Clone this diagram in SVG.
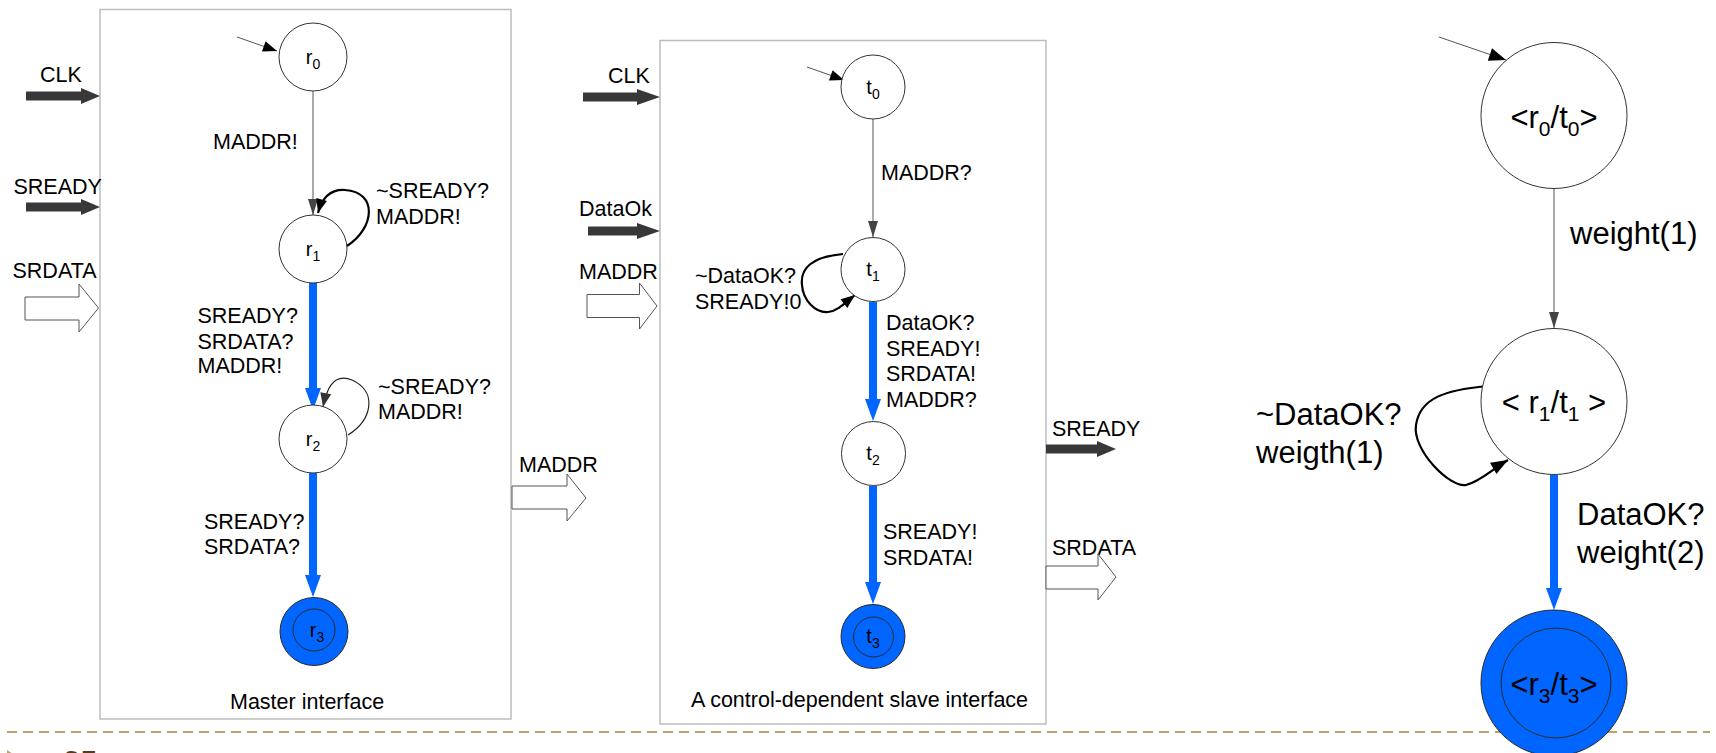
<svg xmlns="http://www.w3.org/2000/svg" width="1716" height="753" viewBox="0 0 1716 753">
  <style>
    text { font-family: "Liberation Sans", Arial, sans-serif; fill: #000; }
    .lbl { font-size: 21.5px; }
    .big { font-size: 31px; }
    .nlab { font-size: 20px; text-anchor: middle; }
    .blab { font-size: 31px; text-anchor: middle; }
    .box { fill: #fff; stroke: #bdbdbd; stroke-width: 1.5; }
    .state { fill: #fff; stroke: #333; stroke-width: 1; }
    .final { fill: #0066ff; stroke: #2a2a2a; stroke-width: 1; }
    .inner { fill: none; stroke: #2a2a2a; stroke-width: 1; }
    .thin { fill: none; stroke: #555; stroke-width: 1; }
    .blue { fill: none; stroke: #0066ff; stroke-width: 8; }
    .loop { fill: none; stroke: #000; stroke-width: 2.2; }
    .loop2 { fill: none; stroke: #222; stroke-width: 1.2; }
    .solid { fill: #383838; stroke: none; }
    .hollow { fill: #fff; stroke: #555; stroke-width: 1; }
  </style>
  <defs>
    <marker id="ahGray" markerUnits="userSpaceOnUse" markerWidth="16" markerHeight="10" refX="16" refY="5" orient="auto" overflow="visible">
      <path d="M0,0 L16,5 L0,10 z" fill="#444"/>
    </marker>
    <marker id="ahBlack" markerUnits="userSpaceOnUse" markerWidth="14" markerHeight="11" refX="14" refY="5.5" orient="auto" overflow="visible">
      <path d="M0,0 L14,5.5 L0,11 z" fill="#000"/>
    </marker>
    <marker id="ahBlackL" markerUnits="userSpaceOnUse" markerWidth="17" markerHeight="13" refX="17" refY="6.5" orient="auto" overflow="visible">
      <path d="M0,0 L17,6.5 L0,13 z" fill="#000"/>
    </marker>
    <marker id="ahDark" markerUnits="userSpaceOnUse" markerWidth="14" markerHeight="11" refX="14" refY="5.5" orient="auto" overflow="visible">
      <path d="M0,0 L14,5.5 L0,11 z" fill="#333"/>
    </marker>
    <marker id="ahBlue" markerUnits="userSpaceOnUse" markerWidth="22" markerHeight="16" refX="0" refY="8" orient="auto" overflow="visible">
      <path d="M0,0 L22,8 L0,16 z" fill="#0066ff"/>
    </marker>
  </defs>

  <!-- interface frames -->
  <rect class="box" x="100" y="9.5" width="411" height="709.5"/>
  <rect class="box" x="660" y="40.5" width="386" height="683.5"/>

  <!-- page separator -->
  <line x1="7" y1="732" x2="1710" y2="732" stroke="#c0a064" stroke-width="2" stroke-dasharray="10 6"/>
  <polygon points="7,750 7,766 19,758" fill="#c0a064"/>
  <text x="63" y="773" style="font-size:31px; fill:#5a3a1a">35</text>

  <!-- port arrows -->
  <g id="ports">
    <!-- master inputs -->
    <text class="lbl" x="40" y="82">CLK</text>
    <polygon class="solid" points="26,91.5 81,91.5 81,88 100,96 81,104 81,100.5 26,100.5"/>
    <text class="lbl" x="13.5" y="194">SREADY</text>
    <polygon class="solid" points="26,202.5 81,202.5 81,199 100,207 81,215 81,211.5 26,211.5"/>
    <text class="lbl" x="12.5" y="278">SRDATA</text>
    <polygon class="hollow" points="25,297 79,297 79,284 98.5,308 79,332 79,320 25,320"/>
    <!-- master to slave -->
    <text class="lbl" x="519" y="472">MADDR</text>
    <polygon class="hollow" points="512,486 567,486 567,474 586,498 567,521 567,509 512,509"/>
    <!-- slave inputs -->
    <text class="lbl" x="608" y="83">CLK</text>
    <polygon class="solid" points="583,92.5 637,92.5 637,89 660,97 637,105 637,101.5 583,101.5"/>
    <text class="lbl" x="579" y="216">DataOk</text>
    <polygon class="solid" points="588,226.5 637,226.5 637,223 660,231 637,239 637,235.5 588,235.5"/>
    <text class="lbl" x="579" y="279">MADDR</text>
    <polygon class="hollow" points="587,294.5 639.5,294.5 639.5,283 657,306 639.5,329 639.5,317.5 587,317.5"/>
    <!-- slave outputs -->
    <text class="lbl" x="1052" y="436">SREADY</text>
    <polygon class="solid" points="1046,444.5 1097,444.5 1097,441 1116,449 1097,457 1097,453.5 1046,453.5"/>
    <text class="lbl" x="1052" y="555">SRDATA</text>
    <polygon class="hollow" points="1046,566 1098,566 1098,554 1116,577 1098,600 1098,589 1046,589"/>
  </g>

  <!-- transitions -->
  <g id="connectors">
    <!-- master -->
    <line class="thin" x1="237" y1="37" x2="277" y2="51" marker-end="url(#ahBlack)"/>
    <line class="thin" x1="313" y1="91" x2="313" y2="215" marker-end="url(#ahGray)"/>
    <path class="loop" d="M347,246 C375,228 378,192 345,190 C330,189 322,198 318,213" marker-end="url(#ahBlack)"/>
    <line class="blue" x1="313" y1="283" x2="313" y2="388" marker-end="url(#ahBlue)"/>
    <path class="loop2" d="M348,435 C372,420 378,392 352,380 C332,372 326,392 323,407" marker-end="url(#ahDark)"/>
    <line class="blue" x1="313" y1="473" x2="313" y2="575" marker-end="url(#ahBlue)"/>
    <!-- slave -->
    <line class="thin" x1="807" y1="67" x2="844" y2="80" marker-end="url(#ahBlack)"/>
    <line class="thin" x1="873" y1="119" x2="873" y2="237" marker-end="url(#ahGray)"/>
    <path class="loop" d="M843,254 C812,257 800,268 802,285 C803,300 815,313 828,312 C838,311 846,302 855,295" marker-end="url(#ahBlack)"/>
    <line class="blue" x1="873" y1="302" x2="873" y2="399" marker-end="url(#ahBlue)"/>
    <line class="blue" x1="873" y1="486" x2="873" y2="582" marker-end="url(#ahBlue)"/>
    <!-- product -->
    <line class="thin" x1="1439" y1="37" x2="1506" y2="60" marker-end="url(#ahBlackL)"/>
    <line class="thin" x1="1554" y1="189" x2="1554" y2="328" marker-end="url(#ahGray)"/>
    <path class="loop" d="M1487,386 C1445,390 1420,398 1416,425 C1412,450 1450,488 1466,485 C1480,482 1494,468 1508,460" marker-end="url(#ahBlackL)"/>
    <line class="blue" x1="1554" y1="475" x2="1554" y2="588" marker-end="url(#ahBlue)"/>
  </g>

  <!-- transition labels -->
  <g id="labels">
    <text class="lbl" x="213" y="149">MADDR!</text>
    <text class="lbl" x="376" y="198">~SREADY?</text>
    <text class="lbl" x="376" y="224">MADDR!</text>
    <text class="lbl" x="197.5" y="323">SREADY?</text>
    <text class="lbl" x="197.5" y="349">SRDATA?</text>
    <text class="lbl" x="197.5" y="373">MADDR!</text>
    <text class="lbl" x="378" y="394">~SREADY?</text>
    <text class="lbl" x="378" y="419">MADDR!</text>
    <text class="lbl" x="204" y="529">SREADY?</text>
    <text class="lbl" x="204" y="554">SRDATA?</text>
    <text class="lbl" x="230" y="709">Master interface</text>

    <text class="lbl" x="881" y="180">MADDR?</text>
    <text class="lbl" x="695" y="283">~DataOK?</text>
    <text class="lbl" x="695" y="309">SREADY!0</text>
    <text class="lbl" x="886" y="330">DataOK?</text>
    <text class="lbl" x="886" y="356">SREADY!</text>
    <text class="lbl" x="886" y="381">SRDATA!</text>
    <text class="lbl" x="886" y="407">MADDR?</text>
    <text class="lbl" x="883" y="539">SREADY!</text>
    <text class="lbl" x="883" y="565">SRDATA!</text>
    <text class="lbl" x="691" y="707">A control-dependent slave interface</text>

    <text class="big" x="1570" y="244">weight(1)</text>
    <text class="big" x="1256" y="425">~DataOK?</text>
    <text class="big" x="1256" y="463">weigth(1)</text>
    <text class="big" x="1577" y="525">DataOK?</text>
    <text class="big" x="1577" y="563">weight(2)</text>
  </g>

  <!-- master states -->
  <g id="r0"><circle class="state" cx="313" cy="57" r="34"/><text class="nlab" x="313" y="64">r<tspan font-size="14" dy="5">0</tspan></text></g>
  <g id="r1"><circle class="state" cx="313" cy="249" r="34"/><text class="nlab" x="313" y="256">r<tspan font-size="14" dy="5">1</tspan></text></g>
  <g id="r2"><circle class="state" cx="313" cy="439" r="34"/><text class="nlab" x="313" y="446">r<tspan font-size="14" dy="5">2</tspan></text></g>
  <g id="r3"><circle class="final" cx="314" cy="631.5" r="34"/><circle class="inner" cx="314" cy="630" r="21"/><text class="nlab" x="317" y="637">r<tspan font-size="14" dy="5">3</tspan></text></g>

  <!-- slave states -->
  <g id="t0"><circle class="state" cx="873" cy="87" r="32"/><text class="nlab" x="873" y="94">t<tspan font-size="14" dy="5">0</tspan></text></g>
  <g id="t1"><circle class="state" cx="873" cy="269.5" r="32"/><text class="nlab" x="873" y="276">t<tspan font-size="14" dy="5">1</tspan></text></g>
  <g id="t2"><circle class="state" cx="873.5" cy="453.5" r="32"/><text class="nlab" x="873" y="460">t<tspan font-size="14" dy="5">2</tspan></text></g>
  <g id="t3"><circle class="final" cx="873" cy="636.5" r="32"/><circle class="inner" cx="873.5" cy="637" r="20"/><text class="nlab" x="873" y="643">t<tspan font-size="14" dy="5">3</tspan></text></g>

  <!-- product states -->
  <g id="r0t0"><circle class="state" cx="1554" cy="115.5" r="73"/><text class="blab" x="1554" y="128">&lt;r<tspan font-size="21" dy="8">0</tspan><tspan dy="-8">/t</tspan><tspan font-size="21" dy="8">0</tspan><tspan dy="-8">&gt;</tspan></text></g>
  <g id="r1t1"><circle class="state" cx="1554" cy="401.5" r="73"/><text class="blab" x="1554" y="413">&lt; r<tspan font-size="21" dy="8">1</tspan><tspan dy="-8">/t</tspan><tspan font-size="21" dy="8">1</tspan><tspan dy="-8"> &gt;</tspan></text></g>
  <g id="r3t3"><circle class="final" cx="1554" cy="683" r="73"/><circle class="inner" cx="1556" cy="683" r="55"/><text class="blab" x="1554" y="695">&lt;r<tspan font-size="21" dy="8">3</tspan><tspan dy="-8">/t</tspan><tspan font-size="21" dy="8">3</tspan><tspan dy="-8">&gt;</tspan></text></g>
</svg>
